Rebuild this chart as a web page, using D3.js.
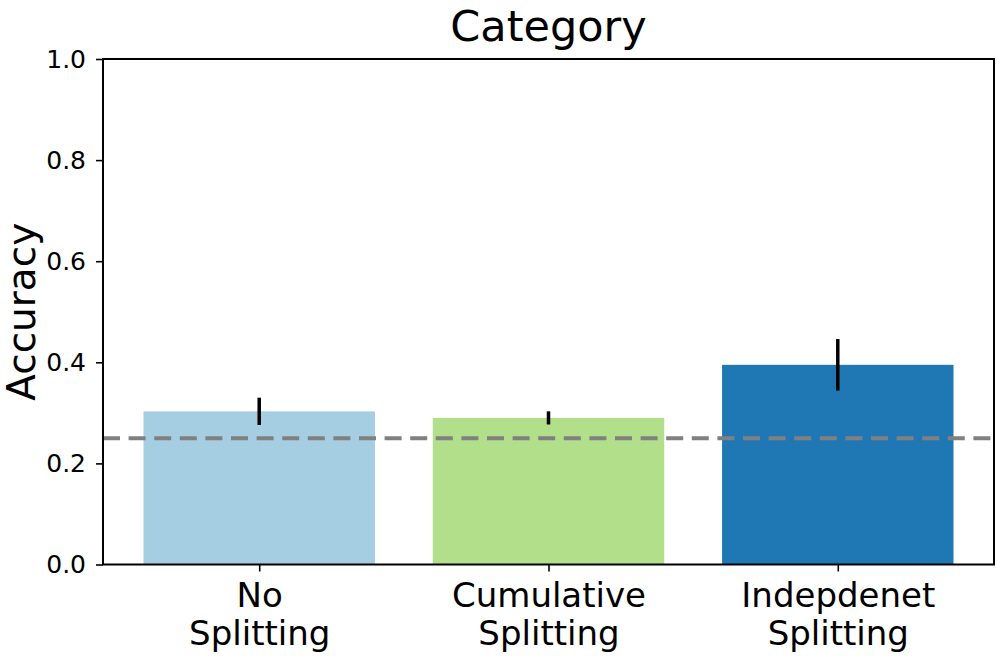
<!DOCTYPE html>
<html>
<head>
<meta charset="utf-8">
<script src="https://cdn.jsdelivr.net/npm/d3@7"></script>
<style>
  body { margin: 0; background: #fff; }
  svg { display: block; font-family: "DejaVu Sans", sans-serif; }
</style>
</head>
<body>
<svg id="chart" width="997" height="665"></svg>
<script>
const categories = [["No", "Splitting"], ["Cumulative", "Splitting"], ["Indepdenet", "Splitting"]];
const values = [0.303, 0.290, 0.395];
const errors = [0.027, 0.013, 0.051];
const colors = ["#a6cee3", "#b2df8a", "#1f78b4"];
const chanceLevel = 0.25;
const yTicks = [0.0, 0.2, 0.4, 0.6, 0.8, 1.0];
const title = "Category";
const yLabel = "Accuracy";

(function () {
const svg = d3.select("#chart");
const pL = 103, pR = 994, pT = 59, pB = 564.5;

const x = d3.scaleLinear().domain([-0.54, 2.54]).range([pL, pR]);
const y = d3.scaleLinear().domain([0, 1]).range([pB, pT]);
const barW = x(0.8) - x(0);

// bars
svg.selectAll("rect.bar").data(values).join("rect")
  .attr("class", "bar")
  .attr("x", (d, i) => x(i) - barW / 2)
  .attr("width", barW)
  .attr("y", d => y(d))
  .attr("height", d => y(0) - y(d))
  .attr("fill", (d, i) => colors[i]);

// error bars
svg.selectAll("line.err").data(values).join("line")
  .attr("class", "err")
  .attr("x1", (d, i) => x(i)).attr("x2", (d, i) => x(i))
  .attr("y1", (d, i) => y(d - errors[i]))
  .attr("y2", (d, i) => y(d + errors[i]))
  .attr("stroke", "#000").attr("stroke-width", 3.5);

// chance line
svg.append("line")
  .attr("x1", pL).attr("x2", pR)
  .attr("y1", y(chanceLevel)).attr("y2", y(chanceLevel))
  .attr("stroke", "#808080").attr("stroke-width", 4)
  .attr("stroke-dasharray", "17,8.6");

// frame
svg.append("rect")
  .attr("x", pL).attr("y", pT)
  .attr("width", pR - pL).attr("height", pB - pT)
  .attr("fill", "none").attr("stroke", "#000").attr("stroke-width", 2);

// y axis
const yAxis = svg.append("g")
  .attr("transform", `translate(${pL},0)`)
  .call(d3.axisLeft(y).tickValues(yTicks).tickFormat(d3.format(".1f")).tickSize(7).tickPadding(10));
yAxis.select(".domain").remove();
yAxis.selectAll(".tick line").attr("stroke-width", 1.6);
yAxis.selectAll(".tick text").attr("font-size", 25).attr("font-family", "DejaVu Sans").attr("fill", "#000");

// x axis
const xAxis = svg.append("g")
  .attr("transform", `translate(0,${pB})`)
  .call(d3.axisBottom(x).tickValues([0, 1, 2]).tickFormat("").tickSize(7));
xAxis.select(".domain").remove();
xAxis.selectAll(".tick line").attr("stroke-width", 1.6);
xAxis.selectAll(".tick").each(function (d) {
  const t = d3.select(this).append("text")
    .attr("fill", "#000")
    .attr("font-size", 34)
    .attr("font-family", "DejaVu Sans")
    .attr("text-anchor", "middle");
  categories[d].forEach((line, j) => {
    t.append("tspan").attr("x", 0).attr("y", 42 + j * 38.5).text(line);
  });
});

// title
svg.append("text")
  .attr("x", (pL + pR) / 2).attr("y", 41)
  .attr("text-anchor", "middle")
  .attr("font-size", 43)
  .text(title);

// y label
svg.append("text")
  .attr("transform", `translate(35,${(pT + pB) / 2}) rotate(-90)`)
  .attr("text-anchor", "middle")
  .attr("font-size", 39)
  .text(yLabel);
})();
</script>
</body>
</html>
